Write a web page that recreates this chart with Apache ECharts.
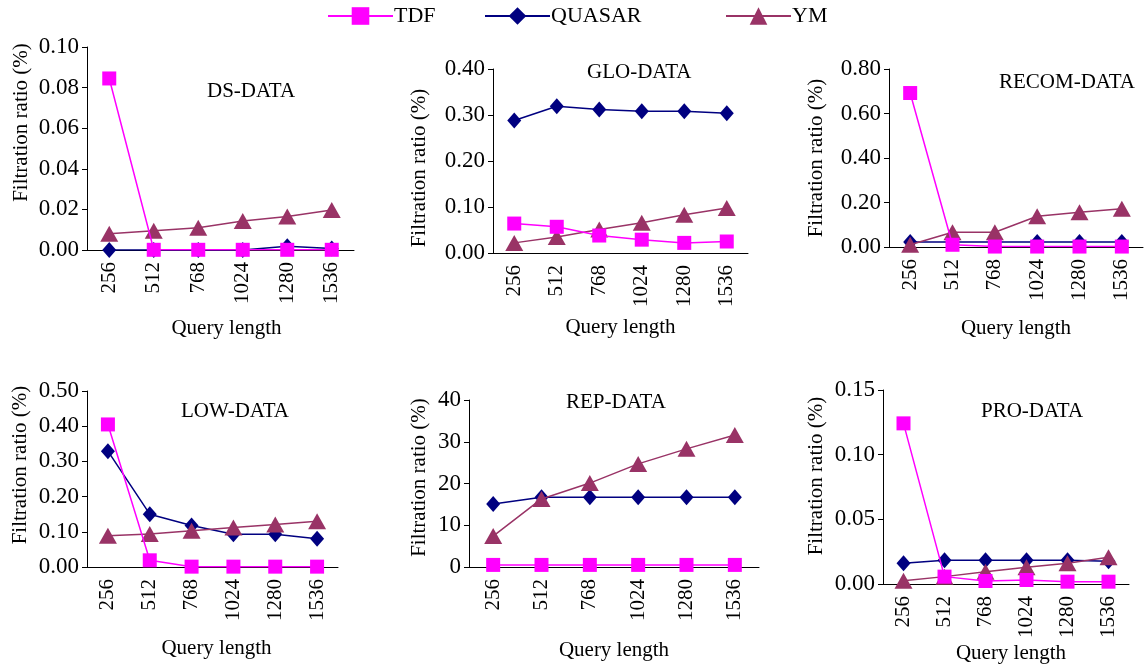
<!DOCTYPE html>
<html style="height: 100%">
<head>
<meta charset="utf-8">
<script src="https://cdn.jsdelivr.net/npm/echarts@6/dist/echarts.min.js"></script>
</head>
<body style="height: 100%; margin: 0; background: #fff">
<div id="container" style="width: 1144px; height: 667px"></div>
<script>
// categories
var queryLengths = ['256', '512', '768', '1024', '1280', '1536'];
var panelNames = ['DS-DATA', 'GLO-DATA', 'RECOM-DATA', 'LOW-DATA', 'REP-DATA', 'PRO-DATA'];

// values (filtration ratio, %)
var dsTDF = [0.0845, 0.0001, 0.0001, 0.0001, 0.0001, 0.0001];
var dsQUASAR = [0, 0, 0, 0, 0.0018, 0.0008];
var dsYM = [0.008, 0.0095, 0.011, 0.0143, 0.0165, 0.0197];

var gloTDF = [0.064, 0.057, 0.038, 0.029, 0.022, 0.025];
var gloQUASAR = [0.288, 0.319, 0.312, 0.308, 0.308, 0.304];
var gloYM = [0.022, 0.035, 0.051, 0.066, 0.083, 0.098];

var recomTDF = [0.692, 0.01, 0.002, 0.002, 0.002, 0.002];
var recomQUASAR = [0.022, 0.022, 0.022, 0.022, 0.022, 0.022];
var recomYM = [0.01, 0.066, 0.066, 0.138, 0.156, 0.172];

var lowTDF = [0.405, 0.019, 0.001, 0.001, 0.001, 0.001];
var lowQUASAR = [0.329, 0.150, 0.118, 0.093, 0.093, 0.080];
var lowYM = [0.089, 0.094, 0.103, 0.112, 0.121, 0.130];

var repTDF = [0.5, 0.5, 0.5, 0.5, 0.5, 0.5];
var repQUASAR = [15.1, 16.7, 16.7, 16.7, 16.7, 16.7];
var repYM = [7.4, 16.3, 20.1, 24.7, 28.3, 31.6];

var proTDF = [0.1242, 0.0057, 0.0023, 0.0031, 0.0018, 0.0018];
var proQUASAR = [0.016, 0.0183, 0.0183, 0.0183, 0.0183, 0.0176];
var proYM = [0.0026, 0.0057, 0.0095, 0.0129, 0.016, 0.0206];

// y axis ticks
var yMax = [0.10, 0.40, 0.80, 0.50, 40, 0.15];
var yStep = [0.02, 0.10, 0.20, 0.10, 10, 0.05];
var yDigits = [2, 2, 2, 2, 0, 2];

var tdfData = [dsTDF, gloTDF, recomTDF, lowTDF, repTDF, proTDF];
var quasarData = [dsQUASAR, gloQUASAR, recomQUASAR, lowQUASAR, repQUASAR, proQUASAR];
var ymData = [dsYM, gloYM, recomYM, lowYM, repYM, proYM];

var dom = document.getElementById('container');
var myChart = echarts.init(dom);
var font = "'Liberation Serif', 'Times New Roman', serif";

// layout of each panel: grid box, y-name gap / shift, x-name gap, title spot
var grids = [
  {left: 87, top: 47, width: 267, height: 203},
  {left: 493, top: 69, width: 255, height: 184},
  {left: 889, top: 69, width: 254, height: 178},
  {left: 87, top: 391, width: 251, height: 176},
  {left: 469, top: 400, width: 290, height: 167},
  {left: 883, top: 390, width: 246, height: 194}
];
var yNameGap = [55, 63, 62, 56, 39, 56];
var yNameShift = [26, -7, 0, 14, 6, 11];
var xNameGap = [68, 64, 71, 71, 73, 59];
var xNameShift = [12, 0, 0, 8, 0, 10];
var titlePos = [[207, 81], [587, 62], [999, 72], [181, 401], [566, 392], [981, 401]];

var colors = {TDF: '#ff00ff', QUASAR: '#000080', YM: '#993366'};

var option = {
  animation: false,
  textStyle: {fontFamily: font, color: '#000'},
  title: [],
  legend: [
    {data: ['TDF'], left: 327, top: 5},
    {data: ['QUASAR'], left: 484, top: 5},
    {data: ['YM'], left: 725, top: 5}
  ].map(function (l) {
    l.itemWidth = 65;
    l.itemHeight = 22;
    l.itemGap = 0;
    l.padding = 0;
    l.textStyle = {fontFamily: font, fontSize: 22, color: '#000', padding: [0, 0, 0, -4]};
    return l;
  }),
  grid: grids,
  xAxis: [],
  yAxis: [],
  series: []
};

for (var i = 0; i < 6; i++) {
  option.title.push({
    text: panelNames[i],
    left: titlePos[i][0],
    top: titlePos[i][1],
    padding: 0,
    textStyle: {fontFamily: font, fontSize: 21, fontWeight: 'normal', color: '#000'}
  });
  option.xAxis.push({
    type: 'category',
    gridIndex: i,
    data: queryLengths,
    boundaryGap: true,
    name: 'Query length',
    nameLocation: 'middle',
    nameGap: xNameGap[i],
    nameTextStyle: {fontFamily: font, fontSize: 21, color: '#000', padding: [0, 0, 0, xNameShift[i]]},
    axisLine: {lineStyle: {color: '#000', width: 1}},
    axisTick: {interval: 0, length: 6, lineStyle: {color: '#000'}},
    axisLabel: {interval: 0, rotate: 90, margin: 12, fontFamily: font, fontSize: 21, color: '#000'}
  });
  var pad = yNameShift[i] >= 0 ? [0, 0, 0, 2 * yNameShift[i]] : [0, -2 * yNameShift[i], 0, 0];
  option.yAxis.push({
    type: 'value',
    gridIndex: i,
    min: 0,
    max: yMax[i],
    interval: yStep[i],
    name: 'Filtration ratio (%)',
    nameLocation: 'middle',
    nameGap: yNameGap[i],
    nameTextStyle: {fontFamily: font, fontSize: 21, color: '#000', padding: pad},
    splitLine: {show: false},
    axisLine: {show: true, lineStyle: {color: '#000', width: 1}},
    axisTick: {show: true, length: 5, lineStyle: {color: '#000'}},
    axisLabel: {
      margin: 8, fontFamily: font, fontSize: 23, color: '#000',
      formatter: (function (d) { return function (v) { return v.toFixed(d); }; })(yDigits[i])
    }
  });
  option.series.push(
    {
      name: 'QUASAR', type: 'line', xAxisIndex: i, yAxisIndex: i,
      data: quasarData[i], symbol: 'diamond', symbolSize: [14, 16], z: 2,
      itemStyle: {color: colors.QUASAR},
      lineStyle: {color: colors.QUASAR, width: 1.5}
    },
    {
      name: 'YM', type: 'line', xAxisIndex: i, yAxisIndex: i,
      data: ymData[i], symbol: 'triangle', symbolSize: [18, 16], z: 3,
      itemStyle: {color: colors.YM},
      lineStyle: {color: colors.YM, width: 1.5}
    },
    {
      name: 'TDF', type: 'line', xAxisIndex: i, yAxisIndex: i,
      data: tdfData[i], symbol: 'rect', symbolSize: 14, z: 4,
      itemStyle: {color: colors.TDF},
      lineStyle: {color: colors.TDF, width: 1.5}
    }
  );
}

if (option && typeof option === 'object') {
  myChart.setOption(option);
}
</script>
</body>
</html>
